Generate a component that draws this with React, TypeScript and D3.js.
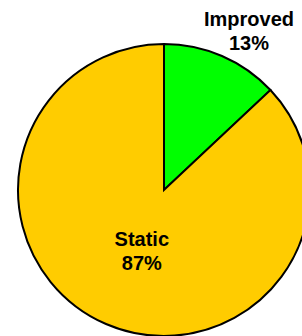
import React from 'react';
import * as d3 from 'd3';

const categories = ['Improved', 'Static'];
const shares = [13, 87];
const colors = ['#00FF00', '#FFCC00'];

const width = 302;
const height = 336;
const cx = 164;
const cy = 190;
const radius = 146;

// label placement: distance from centre + small nudge, per slice
const labelRadius = [180, 66];
const labelNudge = [[13.5, 6.5], [4, 0]];

export default function App() {
  const pie = d3.pie<number>().sort(null).value((d) => d);
  const arcs = pie(shares);
  const arc = d3.arc<d3.PieArcDatum<number>>().innerRadius(0).outerRadius(radius);

  return (
    <svg
      width={width}
      height={height}
      style={{ position: 'absolute', left: 0, top: 0, background: '#fff' }}
      fontFamily="'Liberation Sans', Arial, sans-serif"
    >
      <g transform={`translate(${cx},${cy})`}>
        {arcs.map((a, i) => (
          <path key={i} d={arc(a) || ''} fill={colors[i]} stroke="#000" strokeWidth={2} />
        ))}
        {arcs.map((a, i) => {
          const la = d3.arc<d3.PieArcDatum<number>>().innerRadius(labelRadius[i]).outerRadius(labelRadius[i]);
          const [x, y] = la.centroid(a);
          const lx = x + labelNudge[i][0];
          const ly = y + labelNudge[i][1];
          return (
            <text key={'t' + i} x={lx} y={ly} textAnchor="middle" fontSize={20} fontWeight="bold" fill="#000">
              <tspan x={lx} dy={-5}>{categories[i]}</tspan>
              <tspan x={lx} dy={24}>{shares[i]}%</tspan>
            </text>
          );
        })}
      </g>
    </svg>
  );
}
